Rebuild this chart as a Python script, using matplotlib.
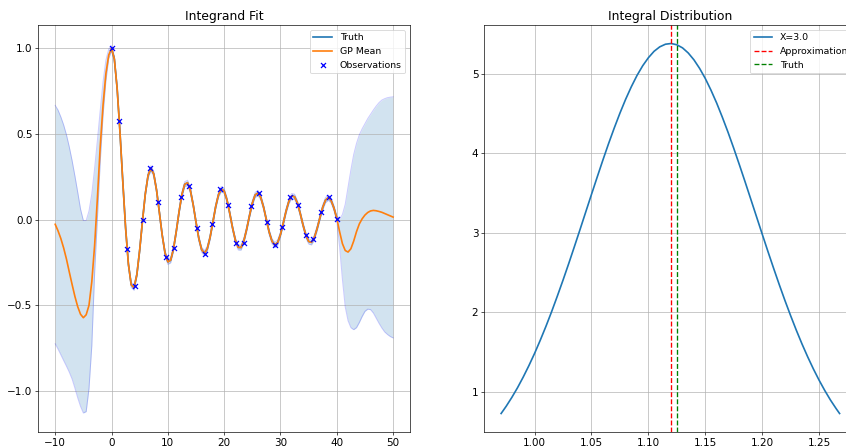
import numpy as np
import matplotlib.pyplot as plt

plt.rcParams['font.size'] = 12.4
plt.rcParams['legend.fontsize'] = 11.2

# ---- integrand: grid split into the left flank, observed range and right flank
x_left = np.arange(-10.0, 0.0, 0.5)
x_mid = np.arange(0.0, 40.01, 0.5)
x_right = np.arange(40.5, 50.01, 0.5)

truth_vals = [
    1.0000, 0.9385, 0.7652, 0.5118, 0.2239, -0.0484, -0.2601, -0.3801, -0.3971, -0.3205,
    -0.1776, -0.0068, 0.1506, 0.2601, 0.3001, 0.2663, 0.1717, 0.0419, -0.0903, -0.1939,
    -0.2459, -0.2366, -0.1712, -0.0677, 0.0477, 0.1469, 0.2069, 0.2150, 0.1711, 0.0875,
    -0.0142, -0.1092, -0.1749, -0.1960, -0.1699, -0.1031, -0.0134, 0.0772, 0.1466, 0.1788,
    0.1670, 0.1151, 0.0366, -0.0489, -0.1210, -0.1617, -0.1624, -0.1227, -0.0551, 0.0237,
    0.0963, 0.1441, 0.1560, 0.1299, 0.0728, -0.0010, -0.0731, -0.1263, -0.1478, -0.1332,
    -0.0863, -0.0195, 0.0511, 0.1082, 0.1381, 0.1339, 0.0973, 0.0375, -0.0305, -0.0900,
    -0.1270, -0.1323, -0.1054, -0.0527, 0.0109, 0.0720, 0.1143, 0.1286, 0.1114, 0.0673,
    0.0074,
]

mean_left = [-0.027, -0.065, -0.110, -0.165, -0.230, -0.305, -0.378, -0.448, -0.508, -0.552,
             -0.572, -0.555, -0.500, -0.362, -0.150, 0.130, 0.430, 0.670, 0.852, 0.960]
upper_left = [0.667, 0.640, 0.600, 0.553, 0.495, 0.425, 0.345, 0.255, 0.160, 0.062,
              -0.005, -0.005, 0.050, 0.150, 0.300, 0.465, 0.640, 0.805, 0.930, 0.995]
lower_left = [-0.724, -0.755, -0.788, -0.822, -0.855, -0.890, -0.930, -0.983, -1.040, -1.090,
              -1.128, -1.120, -0.985, -0.735, -0.310, 0.010, 0.340, 0.610, 0.810, 0.940]

mean_right = [-0.070, -0.140, -0.180, -0.189, -0.170, -0.125, -0.070, -0.025, 0.005, 0.027,
              0.042, 0.051, 0.054, 0.052, 0.048, 0.043, 0.036, 0.029, 0.022, 0.015]
upper_right = [0.005, 0.030, 0.090, 0.190, 0.290, 0.380, 0.445, 0.495, 0.530, 0.560,
               0.590, 0.615, 0.640, 0.663, 0.683, 0.698, 0.706, 0.712, 0.715, 0.717]
lower_right = [-0.160, -0.350, -0.510, -0.590, -0.630, -0.642, -0.630, -0.600, -0.565, -0.535,
               -0.522, -0.525, -0.545, -0.575, -0.605, -0.632, -0.655, -0.670, -0.682, -0.690]

band_mid = 0.015

obs_x = [0.00, 1.38, 2.76, 4.14, 5.52, 6.90, 8.28, 9.66, 11.03, 12.41,
         13.79, 15.17, 16.55, 17.93, 19.31, 20.69, 22.07, 23.45, 24.83, 26.21,
         27.59, 28.97, 30.34, 31.72, 33.10, 34.48, 35.86, 37.24, 38.62, 40.00]
obs_y = [1.000, 0.575, -0.169, -0.387, 0.000, 0.301, 0.103, -0.218, -0.166, 0.130,
         0.196, -0.048, -0.198, -0.025, 0.177, 0.088, -0.134, -0.134, 0.078, 0.155,
         -0.014, -0.150, -0.043, 0.132, 0.088, -0.092, -0.115, 0.044, 0.132, 0.006]

# ---- integral distribution (density of the integral estimate)
dist_x = [0.9706, 0.975, 0.980, 0.985, 0.990, 0.995, 1.000, 1.005, 1.010, 1.015,
          1.020, 1.025, 1.030, 1.035, 1.040, 1.045, 1.050, 1.055, 1.060, 1.065,
          1.070, 1.075, 1.080, 1.085, 1.090, 1.095, 1.100, 1.105, 1.110, 1.115,
          1.120, 1.125, 1.130, 1.135, 1.140, 1.145, 1.150, 1.155, 1.160, 1.165,
          1.170, 1.175, 1.180, 1.185, 1.190, 1.195, 1.200, 1.205, 1.210, 1.215,
          1.220, 1.225, 1.230, 1.235, 1.240, 1.245, 1.250, 1.255, 1.260, 1.265, 1.268]
dist_y = [0.726, 0.816, 0.928, 1.050, 1.184, 1.328, 1.482, 1.648, 1.823, 2.008,
          2.203, 2.404, 2.612, 2.826, 3.043, 3.263, 3.482, 3.699, 3.913, 4.120,
          4.317, 4.504, 4.678, 4.836, 4.978, 5.100, 5.201, 5.282, 5.338, 5.371,
          5.380, 5.364, 5.325, 5.261, 5.175, 5.067, 4.940, 4.793, 4.631, 4.452,
          4.263, 4.062, 3.853, 3.639, 3.421, 3.202, 2.983, 2.766, 2.554, 2.347,
          2.147, 1.956, 1.773, 1.600, 1.438, 1.286, 1.145, 1.015, 0.895, 0.787, 0.726]
approx_value = 1.1196
true_value = 1.1254

truth = np.array(truth_vals)
x_all = np.concatenate([x_left, x_mid, x_right])
gp_mean = np.concatenate([mean_left, truth, mean_right])
gp_upper = np.concatenate([upper_left, truth + band_mid, upper_right])
gp_lower = np.concatenate([lower_left, truth - band_mid, lower_right])

fig = plt.figure(figsize=(846 / 60, 447 / 60), dpi=60)
ax1 = fig.add_axes([38.3 / 846, 15 / 447, 371.7 / 846, 407 / 447])
ax2 = fig.add_axes([484.2 / 846, 15 / 447, 372.3 / 846, 407 / 447])

ax1.fill_between(x_all, gp_lower, gp_upper, color='C0', alpha=0.2, lw=0)
ax1.plot(x_all, gp_upper, color='b', alpha=0.2, lw=1.2)
ax1.plot(x_all, gp_lower, color='b', alpha=0.2, lw=1.2)
ax1.plot(x_mid, truth, color='C0', lw=2, label='Truth')
ax1.plot(x_all, gp_mean, color='C1', lw=2, label='GP Mean')
ax1.scatter(obs_x, obs_y, marker='x', color='b', s=36, lw=1.5, zorder=3, label='Observations')
ax1.set_ylim(-1.239, 1.136)
ax1.set_title('Integrand Fit')
ax1.grid(True)
ax1.legend(loc='upper right')

ax2.plot(dist_x, dist_y, color='C0', lw=2, label='X=3.0')
ax2.axvline(approx_value, color='r', ls='--', lw=1.6, label='Approximation')
ax2.axvline(true_value, color='g', ls='--', lw=1.6, label='Truth')
ax2.set_title('Integral Distribution')
ax2.grid(True)
ax2.legend(loc='upper right')

fig.savefig('out.png', dpi=60)
